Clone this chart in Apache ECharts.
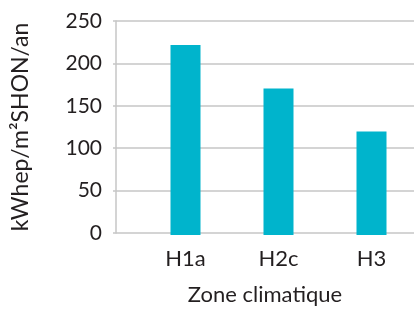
<!DOCTYPE html>
<html>
<head>
<meta charset="utf-8">
<script src="https://cdn.jsdelivr.net/npm/echarts@6/dist/echarts.min.js"></script>
<style>
  html, body { margin: 0; padding: 0; background: #fff; }
  #chart { width: 418px; height: 311px; }
</style>
</head>
<body>
<div id="chart"></div>
<script>
var zones = ['H1a', 'H2c', 'H3'];
var conso = [222, 171, 121];
var yTicks = [0, 50, 100, 150, 200, 250];

var textColor = '#231f20';
var gridColor = '#c6c6c6';
var font = 'Lato';

var chart = echarts.init(document.getElementById('chart'));
var option = {
  backgroundColor: '#fff',
  animation: false,
  grid: [
    // axis frame, gridlines
    { left: 116, right: 4, top: 21, bottom: 76 },
    // bars
    { left: 139, right: 0, top: 21, bottom: 76 }
  ],
  xAxis: [{
    gridIndex: 0,
    type: 'value',
    min: 0,
    max: 1,
    axisLine: { show: false },
    axisTick: { show: false },
    axisLabel: { show: false },
    splitLine: { show: false },
    name: 'Zone climatique',
    nameLocation: 'middle',
    nameGap: 51,
    nameTextStyle: { color: textColor, fontSize: 22, fontFamily: font }
  }, {
    gridIndex: 1,
    type: 'category',
    data: zones,
    axisLine: { show: false },
    axisTick: { show: false },
    axisLabel: {
      color: textColor,
      fontSize: 22,
      fontFamily: font,
      margin: 13
    }
  }],
  yAxis: [{
    gridIndex: 0,
    type: 'value',
    min: yTicks[0],
    max: yTicks[yTicks.length - 1],
    interval: 50,
    name: 'kWhep/m²SHON/an',
    nameLocation: 'middle',
    nameGap: 84,
    nameTextStyle: { color: textColor, fontSize: 23, fontFamily: font },
    axisLine: { show: true, lineStyle: { color: gridColor, width: 1.5 } },
    axisTick: { show: true, length: 3, lineStyle: { color: gridColor, width: 1.5 } },
    axisLabel: { color: textColor, fontSize: 21, fontFamily: font, margin: 14 },
    splitLine: { show: true, lineStyle: { color: gridColor, width: 1.5 } }
  }, {
    gridIndex: 1,
    type: 'value',
    min: yTicks[0],
    max: yTicks[yTicks.length - 1],
    show: false
  }],
  series: [{
    type: 'bar',
    xAxisIndex: 1,
    yAxisIndex: 1,
    barWidth: 30,
    data: conso,
    itemStyle: { color: '#00b4cc' }
  }]
};
chart.setOption(option);
window.addEventListener('resize', function () {
  chart.resize();
});
</script>
</body>
</html>
